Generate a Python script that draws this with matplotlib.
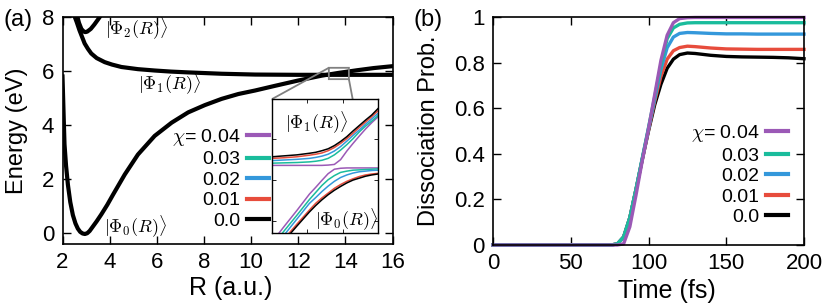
import matplotlib
matplotlib.use("Agg")
import matplotlib.pyplot as plt
from matplotlib.ticker import FuncFormatter

plt.rcParams.update({
    "font.family": ["Liberation Sans", "DejaVu Sans"],
    "mathtext.fontset": "cm",
    "axes.linewidth": 1.2,
})

# ---- panel (a): potential energy curves ----
r_phi0 = [2.0, 2.05, 2.085, 2.15, 2.23, 2.33, 2.44, 2.55, 2.65, 2.75, 2.85, 2.95, 3.05, 3.15,
          3.3, 3.45, 3.65, 3.9, 4.14, 4.64, 5.2, 5.91, 6.63, 7.33, 8.04, 8.75, 9.46, 10.17,
          11.0, 12.0, 13.0, 13.7, 14.5, 15.2, 16.0]
e_phi0 = [5.8, 4.3, 3.29, 2.5, 1.79, 1.15, 0.67, 0.36, 0.17, 0.05, -0.01, -0.03, 0.0, 0.08,
          0.26, 0.44, 0.7, 1.05, 1.42, 2.17, 2.91, 3.6, 4.09, 4.47, 4.74, 4.97, 5.15, 5.28,
          5.45, 5.65, 5.83, 5.93, 6.03, 6.11, 6.18]

r_phi1 = [2.48, 2.6, 2.72, 2.85, 2.94, 3.08, 3.22, 3.45, 3.79, 4.1, 4.5, 5.2, 5.91, 6.6,
          7.33, 8.75, 10.17, 12.0, 14.0, 16.0]
e_phi1 = [8.1, 7.82, 7.51, 7.22, 7.02, 6.82, 6.65, 6.48, 6.33, 6.24, 6.15, 6.07, 6.02, 5.98,
          5.95, 5.9, 5.87, 5.86, 5.86, 5.86]

r_phi2 = [2.62, 2.7, 2.8, 2.9, 2.97, 3.05, 3.2, 3.35, 3.5, 3.62]
e_phi2 = [8.05, 7.78, 7.56, 7.46, 7.44, 7.46, 7.56, 7.72, 7.9, 8.05]

# ---- inset: avoided crossing for each coupling chi ----
chi_labels = [r"$\chi$= 0.04", "0.03", "0.02", "0.01", "0.0"]
colors = ["#9b59b6", "#1abc9c", "#3498db", "#e74c3c", "#000000"]

r_in = [13.30, 13.40, 13.50, 13.60, 13.65, 13.70, 13.75, 13.80, 13.85, 13.90, 13.95, 14.00,
        14.05, 14.10, 14.15]
upper_004 = [5.912, 5.912, 5.912, 5.912, 5.912, 5.912, 5.913, 5.915, 5.930, 5.957, 5.981,
             6.004, 6.026, 6.046, 6.064]
upper_003 = [5.919, 5.920, 5.921, 5.923, 5.925, 5.928, 5.934, 5.945, 5.960, 5.977, 5.996,
             6.017, 6.035, 6.051, 6.068]
upper_002 = [5.927, 5.929, 5.931, 5.934, 5.937, 5.941, 5.947, 5.957, 5.971, 5.988, 6.006,
             6.023, 6.041, 6.058, 6.075]
upper_001 = [5.934, 5.936, 5.939, 5.944, 5.947, 5.951, 5.958, 5.968, 5.981, 5.996, 6.013,
             6.031, 6.048, 6.065, 6.083]
upper_000 = [5.939, 5.942, 5.945, 5.950, 5.953, 5.958, 5.964, 5.974, 5.987, 6.002, 6.020,
             6.037, 6.054, 6.070, 6.090]
lower_004 = [5.672, 5.722, 5.771, 5.822, 5.843, 5.865, 5.886, 5.900, 5.903, 5.904, 5.904,
             5.904, 5.904, 5.904, 5.904]
lower_003 = [5.659, 5.708, 5.756, 5.805, 5.827, 5.849, 5.867, 5.880, 5.890, 5.894, 5.897,
             5.898, 5.899, 5.900, 5.901]
lower_002 = [5.647, 5.695, 5.744, 5.793, 5.811, 5.830, 5.847, 5.862, 5.874, 5.882, 5.888,
             5.892, 5.894, 5.896, 5.897]
lower_001 = [5.637, 5.683, 5.728, 5.772, 5.793, 5.810, 5.825, 5.840, 5.852, 5.862, 5.870,
             5.877, 5.882, 5.885, 5.887]
lower_000 = [5.631, 5.677, 5.722, 5.766, 5.786, 5.804, 5.820, 5.834, 5.846, 5.857, 5.866,
             5.872, 5.878, 5.882, 5.885]

# ---- panel (b): dissociation probability ----
time_fs = [0, 76, 80, 84, 88, 92, 96, 100, 104, 108, 112, 116, 120, 125, 130, 140, 150,
           160, 170, 180, 190, 200]
prob_004 = [0, 0, 0, 0.005, 0.08, 0.22, 0.37, 0.51, 0.66, 0.81, 0.92, 0.975, 0.993, 0.997,
            0.998, 0.998, 0.998, 0.998, 0.998, 0.998, 0.998, 0.998]
prob_003 = [0, 0, 0.005, 0.035, 0.12, 0.245, 0.38, 0.515, 0.65, 0.79, 0.905, 0.952, 0.968,
            0.974, 0.975, 0.975, 0.975, 0.975, 0.975, 0.975, 0.975, 0.975]
prob_002 = [0, 0, 0.005, 0.035, 0.12, 0.245, 0.38, 0.51, 0.64, 0.77, 0.865, 0.912, 0.928,
            0.932, 0.931, 0.928, 0.926, 0.926, 0.925, 0.925, 0.925, 0.925]
prob_001 = [0, 0, 0.005, 0.035, 0.12, 0.245, 0.375, 0.505, 0.63, 0.74, 0.815, 0.852, 0.866,
            0.872, 0.870, 0.864, 0.860, 0.859, 0.858, 0.858, 0.858, 0.858]
prob_000 = [0, 0, 0.005, 0.035, 0.12, 0.245, 0.375, 0.50, 0.615, 0.705, 0.775, 0.815, 0.835,
            0.842, 0.840, 0.832, 0.827, 0.825, 0.824, 0.823, 0.821, 0.817]

uppers = [upper_004, upper_003, upper_002, upper_001, upper_000]
lowers = [lower_004, lower_003, lower_002, lower_001, lower_000]
probs = [prob_004, prob_003, prob_002, prob_001, prob_000]

W, H = 830, 306
fig = plt.figure(figsize=(W / 100, H / 100), dpi=100)
ax1 = fig.add_axes([62.5 / W, 1 - 244 / H, 330 / W, 227 / H])
ax2 = fig.add_axes([493 / W, 1 - 245 / H, 311 / W, 228 / H])

tick_kw = dict(direction="in", top=True, right=True, length=6, width=1.0, labelsize=16)

# panel (a)
for r, e in [(r_phi0, e_phi0), (r_phi1, e_phi1), (r_phi2, e_phi2)]:
    ax1.plot(r, e, color="black", lw=3)
ax1.set_xlim(2, 16)
ax1.set_ylim(-0.4, 8)
ax1.set_xticks(range(2, 17, 2))
ax1.set_yticks(range(0, 9, 2))
ax1.tick_params(pad=6, **tick_kw)
ax1.set_xlabel("R (a.u.)", fontsize=18)
ax1.set_ylabel("Energy (eV)", fontsize=17)
ax1.xaxis.set_label_coords(0.51, -0.14)
ax1.yaxis.set_label_coords(-0.104, 0.5)

lbl = dict(fontsize=13, ha="center", va="center")
ax1.text(5.14, 7.55, r"$|\Phi_2(R)\rangle$", **lbl)
ax1.text(6.55, 5.54, r"$|\Phi_1(R)\rangle$", **lbl)
ax1.text(5.11, 0.24, r"$|\Phi_0(R)\rangle$", **lbl)

axins = ax1.inset_axes([0.635, 0.0485, 0.321, 0.590])
handles = []
for up, lo, c, lab in zip(uppers, lowers, colors, chi_labels):
    h, = axins.plot(r_in, up, color=c, lw=1.1, label=lab)
    axins.plot(r_in, lo, color=c, lw=1.1)
    handles.append(h)
axins.set_xlim(13.30, 14.15)
axins.set_ylim(5.70, 6.12)
axins.set_xticks([13.583, 13.867])
axins.set_yticks([5.739, 5.866, 5.994])
axins.tick_params(direction="in", top=True, right=True, length=3, width=0.6,
                  labelbottom=False, labelleft=False)
for s in axins.spines.values():
    s.set_linewidth(1.0)
axins.text(13.653, 6.045, r"$|\Phi_1(R)\rangle$", **lbl)
axins.text(13.893, 5.741, r"$|\Phi_0(R)\rangle$", **lbl)
ax1.indicate_inset_zoom(axins, edgecolor="#808080", linewidth=1.3, alpha=1)

leg_kw = dict(frameon=False, markerfirst=False, fontsize=14, handlelength=1.15,
              handletextpad=0.35, labelspacing=0.15, borderpad=0, borderaxespad=0)
leg1 = ax1.legend(handles, chi_labels, loc="center right",
                  bbox_to_anchor=(0.627, 0.289), **leg_kw)
for l in leg1.get_lines():
    l.set_linewidth(3)

# panel (b)
for p, c, lab in list(zip(probs, colors, chi_labels))[::-1]:
    ax2.plot(time_fs, p, color=c, lw=2.4, label=lab, clip_on=False)
ax2.set_xlim(0, 200)
ax2.set_ylim(0, 1)
ax2.set_xticks(range(0, 201, 50))
ax2.set_yticks([0, 0.2, 0.4, 0.6, 0.8, 1.0])
ax2.yaxis.set_major_formatter(FuncFormatter(lambda v, _: f"{v:g}"))
ax2.tick_params(pad=6, **tick_kw)
ax2.set_xlabel("Time (fs)", fontsize=18)
ax2.set_ylabel("Dissociation Prob.", fontsize=17)
ax2.xaxis.set_label_coords(0.56, -0.15)
ax2.yaxis.set_label_coords(-0.172, 0.5)
h2, l2 = ax2.get_legend_handles_labels()
leg2 = ax2.legend(h2[::-1], l2[::-1], loc="center right",
                  bbox_to_anchor=(0.9495, 0.309), **leg_kw)
for l in leg2.get_lines():
    l.set_linewidth(3)

fig.text(18 / W, 1 - 20 / H, "(a)", fontsize=17, ha="center", va="center")
fig.text(428 / W, 1 - 20 / H, "(b)", fontsize=17, ha="center", va="center")

fig.savefig("out.png", dpi=100)
